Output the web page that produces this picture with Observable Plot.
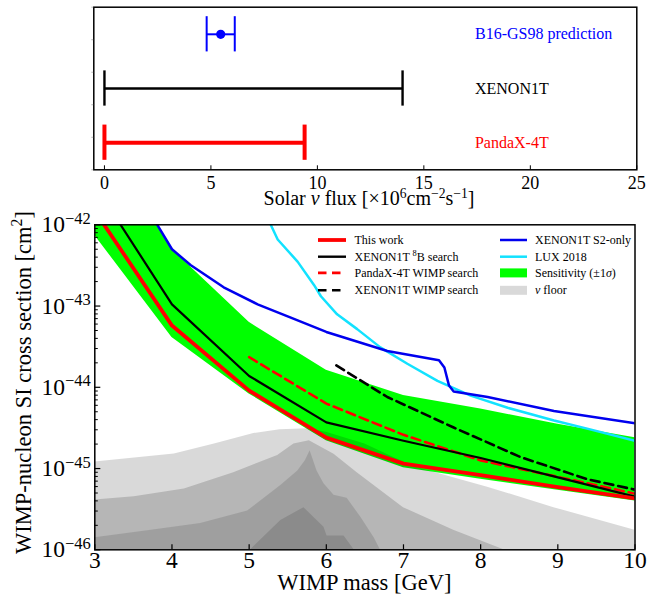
<!DOCTYPE html>
<html>
<head>
<meta charset="utf-8">
<script src="https://cdn.jsdelivr.net/npm/d3@7"></script>
<script src="https://cdn.jsdelivr.net/npm/@observablehq/plot@0.6"></script>
<style>
  body { margin: 0; background: #fff; }
  #wrap { position: relative; width: 648px; height: 597px; overflow: hidden; }
  #wrap svg { position: absolute; left: 0; overflow: visible; }
  #wrap svg text { font-family: "Liberation Serif", "Times New Roman", "DejaVu Serif", serif; }
</style>
</head>
<body>
<div id="wrap"></div>
<script>
// ---------------- Top panel data (solar 8B neutrino flux, ×10^6 cm^-2 s^-1) ----------------
const fluxNames   = ["B16-GS98 prediction", "XENON1T", "PandaX-4T"];
const fluxLow     = [4.80, 0.0, 0.0];
const fluxHigh    = [6.12, 14.0, 9.4];
const fluxCentral = [5.46, null, null];
const fluxColors  = ["#0000ff", "#000000", "#ff0000"];
const fluxTicks   = [0, 5, 10, 15, 20, 25];

// ---------------- Bottom panel data (WIMP mass in GeV, cross section in cm^2) ----------------
const massTicks = [3, 4, 5, 6, 7, 8, 9, 10];
const massGrid  = [3, 4, 5, 6, 7, 8, 9, 10];
const thisWork  = [1.48e-42, 5.75e-44, 9.1e-45, 2.4e-45, 1.15e-45, 8.3e-46, 5.9e-46, 4.3e-46];
const xenon8B   = [3.1e-42, 1.05e-43, 1.38e-44, 3.7e-45, 2.2e-45, 1.35e-45, 7.8e-46, 4.5e-46];
const sensUpper = [1.9e-41, 5.0e-43, 6.3e-44, 1.62e-44, 7.9e-45, 5.4e-45, 3.5e-45, 2.4e-45];
const sensLower = [7.4e-43, 4.1e-44, 8.3e-45, 2.2e-45, 1.02e-45, 7.4e-46, 5.4e-46, 4.0e-46];

const pandaxWimpMass = [5, 6, 7, 8, 9, 10];
const pandaxWimp     = [2.35e-44, 6.3e-45, 2.6e-45, 1.26e-45, 7.9e-46, 4.9e-46];

const xenonWimpMass = [6.13, 6.79, 7.65, 8.52, 9.38, 10];
const xenonWimp     = [1.86e-44, 7.6e-45, 3.2e-45, 1.38e-45, 7.4e-46, 5.5e-46];

const s2OnlyMass = [3.81, 4.0, 4.24, 4.67, 5.11, 5.54, 6.0, 6.79, 7.46, 7.53, 7.59, 7.65, 8.09, 8.95, 10];
const s2Only     = [1.0e-42, 5.0e-43, 3.2e-43, 1.7e-43, 1.05e-43, 7.2e-44, 4.8e-44, 2.8e-44, 2.15e-44, 1.75e-44, 1.05e-44, 8.9e-45, 7.6e-45, 5.1e-45, 3.6e-45];

const luxMass = [5.28, 5.37, 5.63, 5.84, 5.93, 6.14, 6.40, 6.70, 7.05, 7.44, 7.87, 8.35, 8.95, 9.38, 10];
const lux2018 = [1.0e-42, 6.6e-43, 3.5e-43, 1.82e-43, 1.32e-43, 7.9e-44, 5.2e-44, 3.1e-44, 1.95e-44, 1.2e-44, 7.9e-45, 5.6e-45, 3.9e-45, 3.1e-45, 2.2e-45];

// neutrino floor contour levels (outermost to innermost)
const floor1Mass = [3, 4.03, 4.55, 5.06, 5.4, 5.76, 6.0, 6.5, 7.0, 7.22, 8.09, 8.95, 10];
const floor1     = [1.2e-45, 1.51e-45, 2.0e-45, 2.7e-45, 3.0e-45, 3.1e-45, 2.8e-45, 2.0e-45, 1.2e-45, 1.0e-45, 5.9e-46, 3.3e-46, 1.74e-46];
const floor2Mass = [3, 3.51, 4.16, 4.8, 5.37, 5.58, 5.78, 6.1, 6.4, 7.0, 7.65, 8.3];
const floor2     = [4.1e-46, 4.5e-46, 5.6e-46, 8.9e-46, 1.45e-45, 2.0e-45, 2.2e-45, 1.5e-45, 8.9e-46, 3.3e-46, 1.74e-46, 1.0e-46];
const floor3Mass = [3, 3.73, 4.37, 4.98, 5.41, 5.63, 5.73, 5.79, 5.88, 5.97, 6.10, 6.27, 6.45, 6.62, 6.70];
const floor3     = [1.41e-46, 1.74e-46, 2.1e-46, 3.0e-46, 6.2e-46, 9.3e-46, 1.26e-45, 1.66e-45, 9.3e-46, 6.5e-46, 4.7e-46, 4.3e-46, 2.5e-46, 1.41e-46, 1.0e-46];
const floor4Mass = [5.02, 5.41, 5.71, 5.97, 6.01, 6.23, 6.36];
const floor4     = [1.0e-46, 2.3e-46, 3.3e-46, 1.9e-46, 1.48e-46, 1.48e-46, 1.0e-46];

const sigmaMajorTicks = [1e-46, 1e-45, 1e-44, 1e-43, 1e-42];

// ---------------- helpers ----------------
const FONT = "'Liberation Serif', 'Times New Roman', 'DejaVu Serif', serif";
const zip = (xs, ys) => xs.map((x, i) => ({x, y: ys[i]}));
const wrap = document.getElementById("wrap");

function addRich(g, x, y, parts, size, opts = {}) {
  const t = g.append("text").attr("x", x).attr("y", y)
    .attr("font-family", FONT).attr("font-size", size).attr("fill", opts.fill || "black")
    .attr("text-anchor", opts.anchor || "start");
  if (opts.transform) t.attr("transform", opts.transform);
  const supSize = size * (opts.supRatio || 0.7), supShift = size * (opts.supShift || 0.42);
  let raised = false;
  parts.forEach(p => {
    const s = t.append("tspan").text(p.t);
    if (p.it) s.attr("font-style", "italic");
    if (p.sup) {
      s.attr("font-size", supSize);
      if (!raised) { s.attr("dy", -supShift); raised = true; }
    } else if (raised) { s.attr("dy", supShift); raised = false; }
  });
  return t;
}

// ---------------- Top panel ----------------
const topH = 212;
const capHalf = 0.325;
const labelX = 17.4;
const rows = fluxNames.map((name, i) => ({
  name, lo: fluxLow[i], hi: fluxHigh[i], c: fluxCentral[i], color: fluxColors[i],
  row: fluxNames.length - i - 0.5
}));
const rowWidth = {"B16-GS98 prediction": 2, "XENON1T": 2.4, "PandaX-4T": 4};

const topMarks = [];
rows.forEach(r => {
  const w = rowWidth[r.name];
  topMarks.push(Plot.ruleY([r], {y: "row", x1: "lo", x2: "hi", stroke: r.color, strokeWidth: w}));
  topMarks.push(Plot.ruleX([r.lo, r.hi], {x: d => d, y1: r.row - capHalf, y2: r.row + capHalf, stroke: r.color, strokeWidth: w}));
  if (r.c != null) topMarks.push(Plot.dot([r], {x: "c", y: "row", r: 4.6, fill: r.color, stroke: "none"}));
  topMarks.push(Plot.text([r], {x: () => labelX, y: "row", text: "name", fill: r.color, textAnchor: "start", fontSize: 16}));
});

const topPlot = Plot.plot({
  width: 648, height: topH,
  marginLeft: 93.3, marginRight: 11.7, marginTop: 6.7, marginBottom: topH - 169.3,
  style: {fontFamily: FONT, background: "white", color: "black", overflow: "visible"},
  x: {domain: [-0.5, 25]},
  y: {domain: [0, 3]},
  marks: [
    ...topMarks,
    Plot.frame({stroke: "black", strokeWidth: 1.5}),
    Plot.axisX({ticks: fluxTicks, tickSize: -4, tickFormat: () => "", label: null, strokeWidth: 1}),
    Plot.axisX({ticks: fluxTicks, tickSize: 0, tickPadding: 6.5, label: null, fontSize: 18, tickFormat: d => String(d)}),
    Plot.axisY({ticks: [0, 0.6, 1.2, 1.8, 2.4, 3], tickSize: 2, tickFormat: () => "", label: null, strokeWidth: 0.6, stroke: "#888"})
  ]
});
topPlot.style.top = "0px";
wrap.appendChild(topPlot);
{
  const g = d3.select(topPlot).append("g");
  addRich(g, 369, 204.5, [
    {t: "Solar "}, {t: "ν", it: true}, {t: " flux [×10"}, {t: "6", sup: true},
    {t: "cm"}, {t: "−2", sup: true}, {t: "s"}, {t: "−1", sup: true}, {t: "]"}
  ], 20, {anchor: "middle", supRatio: 0.68, supShift: 0.32});
}

// ---------------- Bottom panel ----------------
const botTop = 212;
const botH = 597 - botTop;
const yMin = 1e-46;
const floorLayers = [
  {mass: floor1Mass, sig: floor1, a: 0.15},
  {mass: floor2Mass, sig: floor2, a: 0.16},
  {mass: floor3Mass, sig: floor3, a: 0.12},
  {mass: floor4Mass, sig: floor4, a: 0.12}
];
const minorTicks = [];
for (let e = -46; e < -42; e++) for (let k = 2; k <= 9; k++) minorTicks.push(k * Math.pow(10, e));

const botPlot = Plot.plot({
  width: 648, height: botH,
  marginLeft: 94.3, marginRight: 648 - 634.5, marginTop: 224.3 - botTop, marginBottom: 597 - 549.3,
  style: {fontFamily: FONT, background: "white", color: "black", overflow: "visible"},
  x: {domain: [3, 10]},
  y: {type: "log", domain: [1e-46, 1e-42]},
  marks: [
    Plot.areaY(massGrid.map((m, i) => ({m, lo: sensLower[i], hi: sensUpper[i]})),
      {x: "m", y1: "lo", y2: "hi", fill: "#00ff00", clip: true}),
    ...floorLayers.map(L => Plot.areaY(zip(L.mass, L.sig),
      {x: "x", y1: () => yMin, y2: "y", fill: "black", fillOpacity: L.a, clip: true})),
    Plot.line(zip(luxMass, lux2018), {x: "x", y: "y", stroke: "#12e2ff", strokeWidth: 2.5, clip: true}),
    Plot.line(zip(s2OnlyMass, s2Only), {x: "x", y: "y", stroke: "#0000ee", strokeWidth: 2.5, clip: true}),
    Plot.line(zip(xenonWimpMass, xenonWimp), {x: "x", y: "y", stroke: "black", strokeWidth: 2.6, strokeDasharray: "9,5", clip: true}),
    Plot.line(zip(pandaxWimpMass, pandaxWimp), {x: "x", y: "y", stroke: "#ff0000", strokeWidth: 2.6, strokeDasharray: "9,5", clip: true}),
    Plot.line(zip(massGrid, xenon8B), {x: "x", y: "y", stroke: "black", strokeWidth: 2.2, clip: true}),
    Plot.line(zip(massGrid, thisWork), {x: "x", y: "y", stroke: "#ff0000", strokeWidth: 3.8, clip: true}),
    Plot.frame({stroke: "black", strokeWidth: 1.5}),
    Plot.axisX({ticks: massTicks, tickSize: -5, tickFormat: () => "", label: null, strokeWidth: 1.2}),
    Plot.axisX({ticks: massTicks, tickSize: 0, tickPadding: 2, label: null, fontSize: 23.5, tickFormat: d => String(d)}),
    Plot.axisY({ticks: sigmaMajorTicks, tickSize: -6, tickFormat: () => "", label: null, strokeWidth: 1.2}),
    Plot.axisY({ticks: minorTicks, tickSize: -3.5, tickFormat: () => "", label: null, strokeWidth: 1}),
    Plot.axisY({ticks: sigmaMajorTicks, tickSize: 0, tickPadding: 4, label: null, fontSize: 23.5,
      tickFormat: d => "10^" + Math.round(Math.log10(d))})
  ]
});
botPlot.style.top = botTop + "px";
wrap.appendChild(botPlot);

// superscript exponents on y tick labels
d3.select(botPlot).selectAll("text").each(function() {
  const m = /^10\^(-?\d+)$/.exec(this.textContent);
  if (!m) return;
  const sel = d3.select(this);
  sel.text("10");
  sel.append("tspan").attr("font-size", 16.5).attr("dy", -8.5).text(m[1].replace("-", "−"));
});

{
  const g = d3.select(botPlot).append("g");
  // axis titles
  addRich(g, 364.4, 590 - botTop, [{t: "WIMP mass [GeV]"}], 22.5, {anchor: "middle"});
  addRich(g, 0, 0, [{t: "WIMP-nucleon SI cross section [cm"}, {t: "2", sup: true}, {t: "]"}], 22.5,
    {anchor: "middle", transform: `translate(31,${382.5 - botTop}) rotate(-90)`});

  // legend
  const rowY = [240, 256.7, 272.9, 290.3].map(v => v - botTop);
  const col1 = [
    {parts: [{t: "This work"}], stroke: "#ff0000", w: 3.8},
    {parts: [{t: "XENON1T "}, {t: "8", sup: true}, {t: "B search"}], stroke: "black", w: 2.4},
    {parts: [{t: "PandaX-4T WIMP search"}], stroke: "#ff0000", w: 2.6, dash: "9,5"},
    {parts: [{t: "XENON1T WIMP search"}], stroke: "black", w: 2.6, dash: "9,5"}
  ];
  const col2 = [
    {parts: [{t: "XENON1T S2-only"}], stroke: "#0000ee", w: 2.5},
    {parts: [{t: "LUX 2018"}], stroke: "#12e2ff", w: 2.5},
    {parts: [{t: "Sensitivity (±1"}, {t: "σ", it: true}, {t: ")"}], fill: "#00ff00"},
    {parts: [{t: "ν", it: true}, {t: " floor"}], fill: "#d9d9d9"}
  ];
  const drawCol = (items, x0, x1, xt) => items.forEach((it, i) => {
    const y = rowY[i];
    if (it.fill) {
      g.append("rect").attr("x", x0).attr("y", y - 4.5).attr("width", x1 - x0).attr("height", 9).attr("fill", it.fill);
    } else {
      const l = g.append("line").attr("x1", x0).attr("x2", x1).attr("y1", y).attr("y2", y)
        .attr("stroke", it.stroke).attr("stroke-width", it.w);
      if (it.dash) l.attr("stroke-dasharray", "8.5,5.5");
    }
    addRich(g, xt, y + 4, it.parts, 12);
  });
  drawCol(col1, 318, 346, 354.5);
  drawCol(col2, 500, 527, 535);
}
</script>
</body>
</html>
